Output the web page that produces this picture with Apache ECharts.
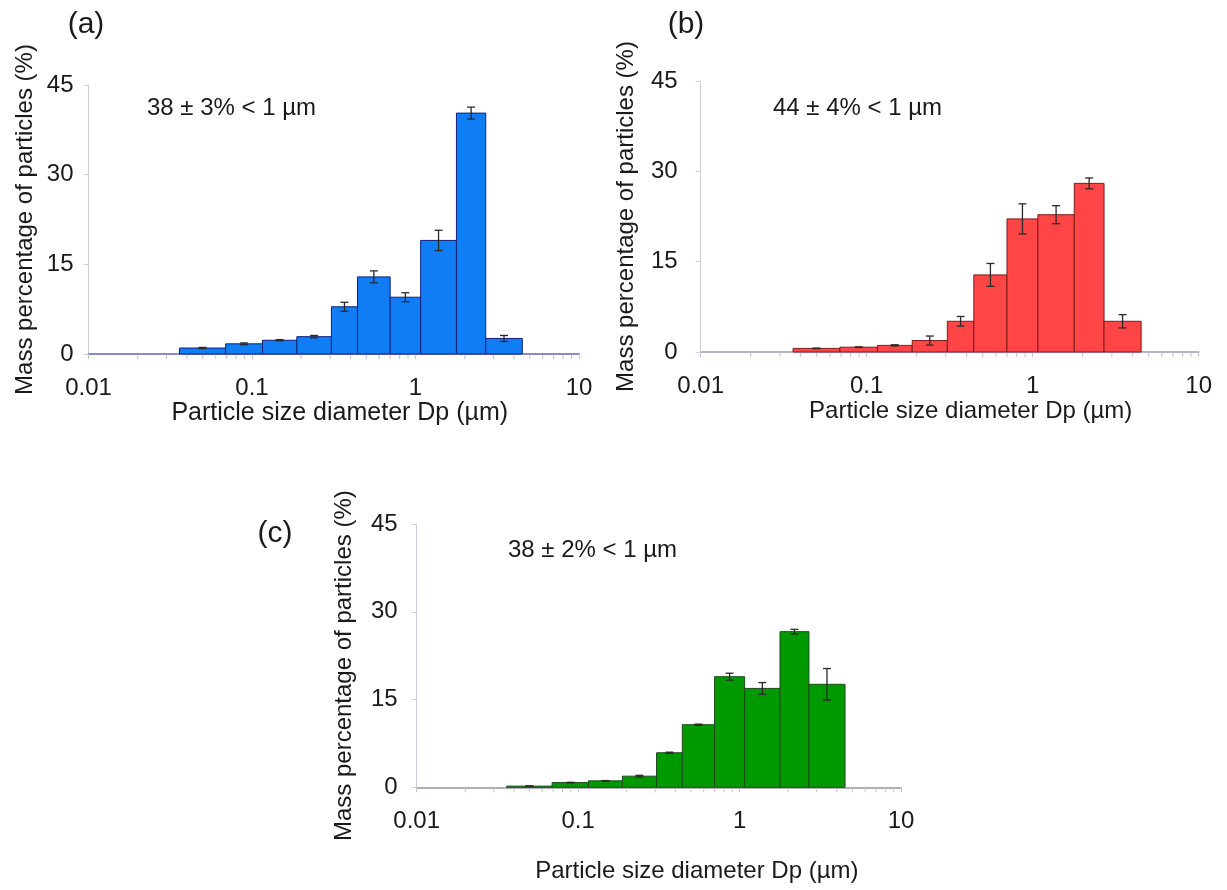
<!DOCTYPE html>
<html>
<head>
<meta charset="utf-8">
<script src="https://cdn.jsdelivr.net/npm/echarts@6/dist/echarts.min.js"></script>
<style>
  html, body { margin: 0; padding: 0; background: #ffffff; }
  #chart { width: 1227px; height: 890px; }
</style>
</head>
<body>
<div id="chart"></div>
<script>
// ---- data ----
const binEdges = [0.036, 0.069, 0.116, 0.188, 0.306, 0.442, 0.70, 1.075, 1.78, 2.69, 4.5];
const massA = [1.0, 1.7, 2.3, 2.9, 7.9, 12.9, 9.5, 19.0, 40.3, 2.6];
const errA  = [0.1, 0.15, 0.1, 0.2, 0.75, 1.0, 0.75, 1.7, 1.0, 0.5];
const massB = [0.6, 0.8, 1.1, 1.9, 5.1, 12.8, 22.1, 22.8, 28.0, 5.1];
const errB  = [0.05, 0.05, 0.1, 0.75, 0.8, 1.9, 2.5, 1.5, 0.9, 1.1];
const massC = [0.2, 0.8, 1.1, 1.9, 5.9, 10.7, 18.9, 16.9, 26.6, 17.6];
const errC  = [0.05, 0.05, 0.05, 0.15, 0.1, 0.1, 0.6, 1.0, 0.4, 2.7];
const minorTickValues = [0.02, 0.03, 0.04, 0.05, 0.06, 0.07, 0.08, 0.09,
                         0.2, 0.3, 0.4, 0.5, 0.6, 0.7, 0.8, 0.9,
                         2, 3, 4, 5, 6, 7, 8, 9];
const yTicks = [0, 15, 30, 45];
const panelLabels = ['(a)', '(b)', '(c)'];
const notes = ['38 ± 3% < 1 µm', '44 ± 4% < 1 µm', '38 ± 2% < 1 µm'];
const xTitle = 'Particle size diameter Dp (µm)';
const yTitle = 'Mass percentage of particles (%)';

// ---- layout / style ----
const FONT = 'Liberation Sans, Arial, sans-serif';
const FS = 24;
const panels = [
  { grid: { left: 88.5, top: 85, width: 490.5, height: 269 }, vals: massA, errs: errA,
    fill: '#117DF5', stroke: '#12207a', xLine: '#8a8ac6', yLabelMargin: 15, yNameGap: 51, yNamePad: [0,0,0,0],
    xNameGap: 43, xNameSize: 25, xNamePad: [0,0,0,12],
    label: [86, 25], note: [147, 108] },
  { grid: { left: 700.7, top: 81, width: 498, height: 271 }, vals: massB, errs: errB,
    fill: '#FF4545', stroke: '#7a1c1c', xLine: '#b4b4ca', yLabelMargin: 23, yNameGap: 62, yNamePad: [0,0,0,0],
    xNameGap: 45, xNameSize: 24, xNamePad: [0,0,0,42],
    label: [686, 25], note: [773, 108] },
  { grid: { left: 416.7, top: 524, width: 484.3, height: 263.3 }, vals: massC, errs: errC,
    fill: '#009A00', stroke: '#1b4a1b', xLine: '#b0b0b0', yLabelMargin: 19, yNameGap: 60, yNamePad: [0,20,0,0],
    xNameGap: 72, xNameSize: 24, xNamePad: [0,0,0,76],
    label: [275, 534], note: [508, 550] }
];

const grids = [], xAxes = [], yAxes = [], series = [], graphics = [];

panels.forEach((p, i) => {
  grids.push(Object.assign({ containLabel: false }, p.grid));
  xAxes.push({
    type: 'log', gridIndex: i, logBase: 10, min: 0.01, max: 10, interval: 1,
    name: xTitle, nameLocation: 'middle', nameGap: p.xNameGap,
    nameTextStyle: { fontFamily: FONT, fontSize: p.xNameSize, color: '#1a1a1a', padding: p.xNamePad },
    axisLine: { show: true, lineStyle: { color: p.xLine, width: 2 } },
    axisTick: { show: true, inside: false, length: 5, lineStyle: { color: '#c4c4d0', width: 1 } },
    axisLabel: { show: true, margin: 22, fontFamily: FONT, fontSize: FS, color: '#1a1a1a',
                 formatter: v => String(+v.toPrecision(3)) },
    splitLine: { show: false },
    minorTick: { show: false }
  });
  yAxes.push({
    type: 'value', gridIndex: i, min: yTicks[0], max: yTicks[yTicks.length - 1], interval: yTicks[1] - yTicks[0],
    name: yTitle, nameLocation: 'middle', nameGap: p.yNameGap, nameRotate: 90,
    nameTextStyle: { fontFamily: FONT, fontSize: FS, color: '#1a1a1a', padding: p.yNamePad },
    axisLine: { show: true, lineStyle: { color: '#cfcfdc', width: 1 } },
    axisTick: { show: true, inside: false, length: 5, lineStyle: { color: '#cfcfdc', width: 1 } },
    axisLabel: { show: true, margin: p.yLabelMargin, fontFamily: FONT, fontSize: FS, color: '#1a1a1a' },
    splitLine: { show: false }
  });

  // minor (log) ticks on x axis
  series.push({
    type: 'custom', xAxisIndex: i, yAxisIndex: i, clip: false, silent: true, z: 1,
    data: minorTickValues.map(v => [v, 0]),
    encode: { x: 0, y: 1 },
    renderItem: (params, api) => {
      const pt = api.coord([api.value(0), 0]);
      return { type: 'line', shape: { x1: pt[0], y1: pt[1] + 1, x2: pt[0], y2: pt[1] + 5 },
               style: { stroke: '#c4c4d0', lineWidth: 1 } };
    }
  });

  // histogram bars with error bars
  const data = p.vals.map((v, k) => [binEdges[k], binEdges[k + 1], v, p.errs[k]]);
  series.push({
    type: 'custom', xAxisIndex: i, yAxisIndex: i, clip: false, z: 3,
    data: data,
    encode: { x: [0, 1], y: 2 },
    renderItem: (params, api) => {
      const lo = api.value(0), hi = api.value(1), v = api.value(2), e = api.value(3);
      const pTop = api.coord([lo, v]);
      const pBot = api.coord([hi, 0]);
      const xm = api.coord([Math.sqrt(lo * hi), 0])[0];
      const yHi = api.coord([lo, v + e])[1];
      const yLo = api.coord([lo, Math.max(0, v - e)])[1];
      const cap = 4;
      const es = { stroke: '#2a2a2a', lineWidth: 1.3 };
      return {
        type: 'group',
        children: [
          { type: 'rect', shape: { x: pTop[0], y: pTop[1], width: pBot[0] - pTop[0], height: pBot[1] - pTop[1] },
            style: { fill: p.fill, stroke: p.stroke, lineWidth: 1 } },
          { type: 'line', shape: { x1: xm, y1: yHi, x2: xm, y2: yLo }, style: es },
          { type: 'line', shape: { x1: xm - cap, y1: yHi, x2: xm + cap, y2: yHi }, style: es },
          { type: 'line', shape: { x1: xm - cap, y1: yLo, x2: xm + cap, y2: yLo }, style: es }
        ]
      };
    }
  });

  graphics.push({
    type: 'text', x: p.label[0], y: p.label[1],
    style: { text: panelLabels[i], font: '30px ' + FONT, fill: '#1a1a1a', textAlign: 'center', textVerticalAlign: 'middle' }
  });
  graphics.push({
    type: 'text', x: p.note[0], y: p.note[1],
    style: { text: notes[i], font: FS + 'px ' + FONT, fill: '#1a1a1a', textAlign: 'left', textVerticalAlign: 'middle' }
  });
});

const chart = echarts.init(document.getElementById('chart'), null, { renderer: 'canvas', width: 1227, height: 890 });
chart.setOption({
  backgroundColor: '#ffffff',
  animation: false,
  grid: grids,
  xAxis: xAxes,
  yAxis: yAxes,
  series: series,
  graphic: graphics
});
</script>
</body>
</html>
